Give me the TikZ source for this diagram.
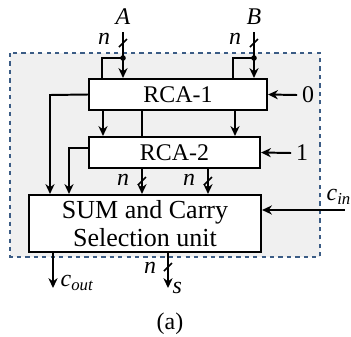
\documentclass[tikz,border=0pt]{standalone}
\usepackage{fontspec}
\setmainfont{Liberation Serif}
\usetikzlibrary{arrows.meta}
\definecolor{frameblue}{HTML}{3B5C85}
\definecolor{framegrey}{HTML}{F0F0F0}

\tikzset{
  blk/.style={draw,fill=white,line width=1.5pt,inner sep=0pt,
    font=\fontsize{17}{18}\selectfont,align=center},
  sig/.style={line width=1.4pt,-{Stealth[length=7pt,width=6.5pt]}},
  wire/.style={line width=1.4pt},
  lbl/.style={font=\fontsize{17}{18}\selectfont\itshape,inner sep=1pt},
  bus/.pic={\draw[line width=1.2pt] (-4,4) -- (4,-4);}
}

\begin{document}
\begin{tikzpicture}[x=0.025cm,y=-0.025cm]

\useasboundingbox (0,0) rectangle (351,337);

% Frame
\draw[frameblue,dashed,line width=1pt,fill=framegrey] (10,53) rectangle (320,257);

% Blocks
\node[blk,minimum width=4.45cm,minimum height=0.775cm] (rca1) at (178,94.5) {RCA-1};
\node[blk,minimum width=4.275cm,minimum height=0.775cm] (rca2) at (174.5,152.5) {RCA-2};
\node[blk,minimum width=5.8cm,minimum height=1.425cm,
  font=\fontsize{18.5}{20}\selectfont] (sum) at (145,223.5)
  {SUM and Carry\\Selection unit};

% Inputs A and B
\coordinate (A) at (123,32);
\coordinate (B) at (254,32);
\node[lbl] (alab) at (123,17) {A};
\node[lbl] (blab) at (254,17) {B};
\coordinate (adot) at (123,58);
\coordinate (bdot) at (254,58);
\draw[sig] (A) -- (rca1.north -| A);
\draw[sig] (B) -- (rca1.north -| B);
\fill (adot) circle (2pt);
\fill (bdot) circle (2pt);
\coordinate (abr) at (102,58);
\coordinate (bbr) at (233,58);
\draw[wire] (adot) -- (abr) -- (rca1.north -| abr);
\draw[wire] (bdot) -- (bbr) -- (rca1.north -| bbr);
\pic at (123,43) {bus};
\pic at (254,43) {bus};
\node[lbl] (na) at (104,39) {n};
\node[lbl] (nb) at (235,39) {n};

% Constant carry inputs
\node[font=\fontsize{17}{18}\selectfont] (zero) at (308,95) {0};
\node[font=\fontsize{17}{18}\selectfont] (one) at (302,153) {1};
\draw[sig] (zero.west) -- (rca1.east);
\draw[sig] (one.west) -- (rca2.east);

% RCA-1 to RCA-2
\coordinate (r1l) at (103,0);
\coordinate (r1m) at (142,0);
\coordinate (r1r) at (235,0);
\draw[sig] (rca1.south -| r1l) -- (rca2.north -| r1l);
\draw[wire] (rca1.south -| r1m) -- (rca2.north -| r1m);
\draw[sig] (rca1.south -| r1r) -- (rca2.north -| r1r);

% Carries to selection unit
\coordinate (c1) at (50,95);
\coordinate (c2) at (69,148);
\draw[sig] (rca1.west) -- (c1) -- (sum.north -| c1);
\draw[sig] (rca2.west |- c2) -- (c2) -- (sum.north -| c2);

% Sums to selection unit
\coordinate (s1) at (142,0);
\coordinate (s2) at (208,0);
\draw[sig] (rca2.south -| s1) -- (sum.north -| s1);
\draw[sig] (rca2.south -| s2) -- (sum.north -| s2);
\pic at (142,181) {bus};
\pic at (208,181) {bus};
\node[lbl] (n1) at (123,180) {n};
\node[lbl] (n2) at (189,180) {n};

% Carry in
\coordinate (cin) at (345,210);
\draw[sig] (cin) -- (cin -| sum.east);
\node[lbl,anchor=west] (cinlab) at (325,197) {c\textsubscript{in}};

% Outputs
\coordinate (cout) at (53,288);
\coordinate (sout) at (168,288);
\draw[sig] (sum.south -| cout) -- (cout);
\draw[sig] (sum.south -| sout) -- (sout);
\pic at (168,267) {bus};
\node[lbl] (ns) at (150,268) {n};
\node[lbl,anchor=west] (coutlab) at (59,283) {c\textsubscript{out}};
\node[lbl,anchor=west] (slab) at (171,288) {s};

% Caption
\node[font=\fontsize{17}{18}\selectfont] (cap) at (170,324) {(a)};

\end{tikzpicture}
\end{document}
